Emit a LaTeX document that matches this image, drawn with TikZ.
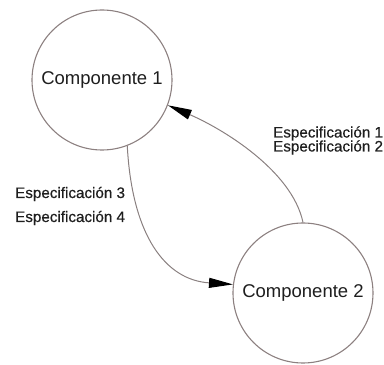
\documentclass[tikz,border=0pt]{standalone}
\usepackage{fontspec}
\setmainfont{Liberation Sans}
\newfontfamily\specfont[FakeBold=0.5]{Liberation Sans}
\usetikzlibrary{arrows.meta}
\definecolor{rim}{HTML}{8C8080}
\definecolor{wire}{HTML}{8A8080}
\definecolor{ink}{HTML}{1E1E1E}
\tikzset{
  comp/.style={circle, draw=rim, line width=1.1pt, minimum size=140pt, inner sep=0pt,
               font=\fontsize{18.5}{20}\selectfont, text=ink},
  link/.style={draw=wire, line width=1pt, -{Triangle[length=24pt,width=10pt,fill=black,color=black]}},
  spec/.style={anchor=base west, inner sep=0pt, font=\specfont\fontsize{15.2}{16}\selectfont, text=ink}
}
\begin{document}
\begin{tikzpicture}[x=1pt,y=1pt]
\useasboundingbox (0,0) rectangle (384,365);
\node[comp] (c1) at (102,285) {Componente 1};
\node[comp] (c2) at (303,72) {Componente 2};
\draw[link] (c2.north) .. controls (292,195) and (221,237) .. (c1.-21);
\draw[link] (c1.-69) .. controls (132,130) and (165,85) .. (c2.173);
\node[spec] (s1) at (273,227.5) {Especificación 1};
\node[spec] (s2) at (273,213.5) {Especificación 2};
\node[spec] (s3) at (15,167) {Especificación 3};
\node[spec] (s4) at (15,143) {Especificación 4};
\end{tikzpicture}
\end{document}
